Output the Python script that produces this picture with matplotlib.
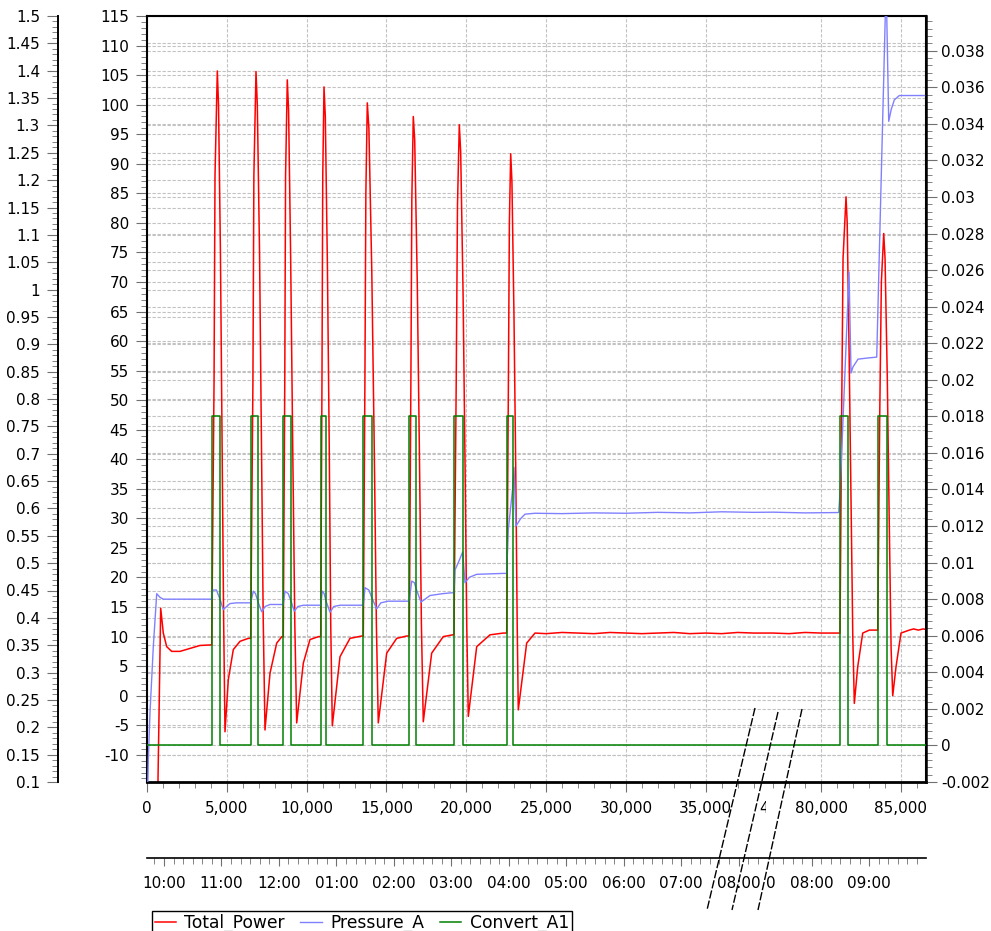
import numpy as np
import matplotlib
matplotlib.use("Agg")
import matplotlib.pyplot as plt
import matplotlib.transforms as mtransforms
from matplotlib.lines import Line2D
from matplotlib.ticker import FixedLocator, MultipleLocator, FuncFormatter

# === Logged channels (time in seconds since start of log) ===
power_t = [0, 600, 690, 858, 1021, 1234, 1547, 2067, 2694, 3320, 3946,
           4053, 4200, 4260, 4404, 4480, 4600, 4700, 4800, 4886, 5093, 5406, 5826, 6345,
           6496, 6635, 6695, 6828, 6910, 7050, 7160, 7280, 7392, 7705, 8125, 8450,
           8538, 8630, 8680, 8788, 8870, 9000, 9120, 9260, 9377, 9791, 10210, 10750,
           10881, 10960, 11010, 11088, 11170, 11300, 11410, 11510, 11608, 12090, 12716, 13449,
           13550, 13650, 13710, 13800, 13900, 14080, 14230, 14370, 14488, 15015, 15641, 16267,
           16430, 16530, 16590, 16681, 16770, 16930, 17060, 17190, 17307, 17833, 18560, 19149,
           19230, 19370, 19450, 19563, 19650, 19800, 19920, 20030, 20127, 20653, 21486, 22319,
           22532, 22640, 22700, 22783, 22860, 22990, 23100, 23190, 23258, 23784, 24304,
           25000, 26000, 27000, 28000, 29000, 30000, 31000, 32000, 33000, 34000, 35000,
           36000, 37000, 38000, 77000, 78000, 79000, 80000,
           81190, 81300, 81380, 81566, 81640, 81760, 81880, 81990, 82086, 82299, 82612, 83026, 83450,
           83552, 83680, 83780, 83928, 84010, 84150, 84270, 84390, 84492, 84698, 85011, 85531,
           85800, 86100, 86400, 86576]
power_v = [-60, -60, -14, 14.8, 10.6, 8.3, 7.5, 7.5, 8.0, 8.5, 8.6,
           8.6, 53, 88, 105.7, 100, 75, 45, 13, -6.1, 2.7, 7.8, 9.2, 9.7,
           9.7, 53, 88, 105.6, 100, 75, 45, 13, -5.8, 3.8, 8.9, 10.0,
           10.0, 53, 88, 104.2, 99, 74, 44, 12, -4.6, 5.5, 9.5, 10.0,
           10.0, 53, 88, 103.0, 98, 73, 44, 12, -5.1, 6.6, 9.7, 10.1,
           10.1, 53, 85, 100.3, 96, 72, 43, 12, -4.6, 7.2, 9.7, 10.1,
           10.1, 53, 84, 98.0, 94, 70, 42, 12, -4.4, 7.2, 10.0, 10.3,
           10.3, 53, 83, 96.6, 92, 68, 40, 12, -3.5, 8.3, 10.3, 10.6,
           10.6, 53, 80, 91.7, 87, 64, 38, 12, -2.4, 8.9, 10.6,
           10.5, 10.7, 10.6, 10.5, 10.7, 10.6, 10.5, 10.6, 10.7, 10.5, 10.6,
           10.5, 10.7, 10.6, 10.6, 10.5, 10.7, 10.6,
           10.6, 50, 74, 84.4, 80, 58, 33, 10, -1.3, 4.9, 10.6, 11.1, 11.1,
           11.1, 48, 70, 78.2, 74, 54, 30, 8, 0.0, 4.9, 10.6, 11.1,
           11.3, 11.1, 11.3, 11.2]

pressure_t = [0, 81, 188, 395, 608, 815, 1021, 2000, 3000, 4053,
              4116, 4350, 4573, 4779, 4990, 5199, 5600, 6496,
              6659, 6800, 6935, 7185, 7400, 7705, 8538,
              8644, 8850, 9020, 9227, 9450, 9800, 10881,
              10981, 11100, 11213, 11464, 11700, 12100, 13550,
              13656, 13900, 14075, 14388, 14650, 15100, 16430,
              16581, 16750, 16850, 17163, 17727, 18500, 19086, 19230,
              19293, 19500, 19776, 19920, 20200, 20653, 22319, 22532,
              22632, 22900, 22989, 23115, 23400, 23678, 24300,
              26000, 28000, 30000, 32000, 34000, 36000, 38000, 77000, 79000, 81109,
              81200, 81754, 81879, 82000, 82318, 83000, 83489,
              84028, 84080, 84116, 84241, 84400, 84592, 84905, 86576]
pressure_v = [-0.004, -0.0008, 0.0018, 0.0054, 0.0083, 0.0081, 0.0080, 0.0080, 0.0080, 0.0080,
              0.0085, 0.0085, 0.0080, 0.00743, 0.0076, 0.00776, 0.0078, 0.0078,
              0.00844, 0.0083, 0.0079, 0.00731, 0.0076, 0.00771, 0.00771,
              0.00844, 0.0083, 0.0079, 0.00734, 0.0076, 0.00767, 0.00767,
              0.00844, 0.0083, 0.0079, 0.00729, 0.0076, 0.00767, 0.00767,
              0.00863, 0.0085, 0.0081, 0.00747, 0.0078, 0.00789, 0.00789,
              0.00899, 0.0089, 0.0086, 0.00784, 0.0082, 0.0083, 0.00835, 0.00835,
              0.0096, 0.0100, 0.01058, 0.0089, 0.0092, 0.00936, 0.00941, 0.00941,
              0.0118, 0.0140, 0.01521, 0.0120, 0.0124, 0.01265, 0.0127,
              0.01268, 0.01272, 0.01270, 0.01275, 0.01272, 0.01278, 0.01275, 0.01276, 0.01272, 0.01274,
              0.0140, 0.0259, 0.02037, 0.0207, 0.02113, 0.0212, 0.02124,
              0.0400, 0.0412, 0.0400, 0.03414, 0.0348, 0.03531, 0.03555, 0.03555]

# Convert_A1 switching instants (s)
convert_on = [4053, 6496, 8538, 10881, 13550, 16430, 19230, 22532, 81190, 83552]
convert_off = [4573, 6935, 9020, 11213, 14075, 16850, 19776, 22945, 81673, 84116]
convert_level = 0.018
log_end = 86576

# === Axis ranges and ticks ===
sec_gap = (38774, 76555)          # stretch of the log cut out of the x axis
sec_ticks = [0, 5000, 10000, 15000, 20000, 25000, 30000, 35000, 80000, 85000]
sec_cut_tick = 40000              # first label past the cut, partly shown
clock_range = (9.704, 33.989)     # wall clock hours at log start / end
clock_gap = (20.477, 31.205)
clock_ticks = [10, 11, 12, 13, 14, 15, 16, 17, 18, 19, 20, 32, 33]
clock_cut_tick = 31               # last label before the cut on the far side
power_range = (-14.6, 115)
power_ticks = list(range(-10, 116, 5))
pressure_range = (-0.002, 0.0399)
pressure_ticks = [round(v, 3) + 0.0 for v in np.arange(-0.002, 0.0381, 0.002)]
aux_range = (0.1, 1.5)
aux_ticks = [round(v, 2) for v in np.arange(0.1, 1.5001, 0.05)]

W, H = 991, 931
plt.rcParams['font.family'] = ['DejaVu Sans']
plt.rcParams['font.size'] = 11


def broken_scale(lo, hi, squeeze=1e-4):
    cut = hi - lo

    def fwd(x):
        x = np.asarray(x, dtype=float)
        return np.where(x <= lo, x,
                        np.where(x >= hi, x - cut * (1 - squeeze), lo + (x - lo) * squeeze))

    def inv(y):
        y = np.asarray(y, dtype=float)
        top = lo + cut * squeeze
        return np.where(y <= lo, y,
                        np.where(y >= top, y + cut * (1 - squeeze), lo + (y - lo) / squeeze))
    return fwd, inv


def ticks_outside_gap(start, stop, step, rng, gap):
    vals = np.arange(start, stop + step / 2, step)
    keep = (vals >= rng[0]) & (vals <= rng[1]) & ~((vals > gap[0]) & (vals < gap[1]))
    return vals[keep]


def fx(px):
    return px / W


def fy(py):
    return 1 - py / H


tick_col = '#707070'
grid_kw = dict(color='#c2c2c2', lw=0.8, ls=(0, (3, 1.5)), zorder=0.8)

fig = plt.figure(figsize=(W / 100, H / 100), dpi=100)
left, right, top, bottom = 147, 926, 16, 782
cut_px = 766                       # where the axis break sits
rect = [fx(left), fy(bottom), fx(right) - fx(left), fy(top) - fy(bottom)]

# outer axis (no series of its own, only scale + grid)
ax_out = fig.add_axes([fx(58), rect[1], 0.001, rect[3]])
ax_out.patch.set_visible(False)
for s in ['top', 'right', 'bottom']:
    ax_out.spines[s].set_visible(False)
ax_out.spines['left'].set_linewidth(1.4)
ax_out.set_xticks([])
ax_out.set_ylim(*aux_range)
ax_out.yaxis.set_major_locator(FixedLocator(aux_ticks))
ax_out.yaxis.set_minor_locator(MultipleLocator(0.01))
ax_out.yaxis.set_major_formatter(FuncFormatter(lambda v, _: f"{round(v, 2):g}"))
ax_out.tick_params(axis='y', which='major', length=8, color=tick_col, pad=5)
ax_out.tick_params(axis='y', which='minor', length=4, color=tick_col)

# main plot
ax = fig.add_axes(rect)
fwd, inv = broken_scale(*sec_gap)
ax.set_xscale('function', functions=(fwd, inv))
ax.set_xlim(0, log_end)
ax.set_ylim(*power_range)
ax.set_axisbelow(True)

ax_r = ax.twinx()
ax_r.set_ylim(*pressure_range)

ax.xaxis.set_major_locator(FixedLocator(sec_ticks))
ax.xaxis.set_minor_locator(FixedLocator(
    ticks_outside_gap(0, 87000, 1000, (0, log_end), sec_gap)))
sec_fmt = lambda v, _=None: f"{int(round(v)):,}"
ax.xaxis.set_major_formatter(FuncFormatter(sec_fmt))
ax.yaxis.set_major_locator(FixedLocator(power_ticks))
ax.yaxis.set_minor_locator(MultipleLocator(1))
ax.yaxis.set_major_formatter(FuncFormatter(lambda v, _: f"{int(round(v))}"))
ax.tick_params(axis='x', which='major', length=7, color=tick_col, pad=7)
ax.tick_params(axis='x', which='minor', length=4, color=tick_col)
ax.tick_params(axis='y', which='major', length=8, color=tick_col, pad=5)
ax.tick_params(axis='y', which='minor', length=4, color=tick_col)

ax_r.yaxis.set_major_locator(FixedLocator(pressure_ticks))
ax_r.yaxis.set_minor_locator(MultipleLocator(0.0004))
ax_r.yaxis.set_major_formatter(FuncFormatter(lambda v, _: f"{round(v, 3) + 0.0:g}"))
ax_r.tick_params(axis='y', which='major', length=8, color=tick_col, pad=3)
ax_r.tick_params(axis='y', which='minor', length=4, color=tick_col)

for s in ['left', 'top', 'right']:
    ax.spines[s].set_linewidth(1.5)
ax.spines['bottom'].set_linewidth(2.0)
for s in ['left', 'top', 'bottom']:
    ax_r.spines[s].set_visible(False)
ax_r.spines['right'].set_linewidth(1.8)

# grid: vertical + left scale from ax, right and outer scales blended in
ax.grid(True, axis='x', which='major', **grid_kw)
ax.grid(True, axis='y', which='major', **grid_kw)
blend_r = mtransforms.blended_transform_factory(ax.transAxes, ax_r.transData)
for v in pressure_ticks:
    ax.add_artist(Line2D([0, 1], [v, v], transform=blend_r, **grid_kw))
blend_o = mtransforms.blended_transform_factory(ax.transAxes, ax_out.transData)
for v in aux_ticks:
    ax.add_artist(Line2D([0, 1], [v, v], transform=blend_o, **grid_kw))

# series
l_power, = ax.plot(power_t, power_v, color='#ff0000', lw=1.1, zorder=2)
l_press, = ax_r.plot(pressure_t, pressure_v, color='#8080ff', lw=1.0, zorder=2)
conv_t = [0]
conv_v = [0]
for on, off in zip(convert_on, convert_off):
    conv_t += [on, off]
    conv_v += [convert_level, 0]
conv_t.append(log_end)
conv_v.append(0)
l_conv, = ax_r.plot(conv_t, conv_v, color='#008000', lw=1.1, drawstyle='steps-post', zorder=3)

# clock-time axis under the plot
ax_t = fig.add_axes([rect[0], fy(858), rect[2], 1e-4])
ax_t.patch.set_visible(False)
for s in ['top', 'left', 'right']:
    ax_t.spines[s].set_visible(False)
ax_t.spines['bottom'].set_linewidth(1.2)
ax_t.set_yticks([])
tf, ti = broken_scale(*clock_gap)
ax_t.set_xscale('function', functions=(tf, ti))
ax_t.set_xlim(*clock_range)
ax_t.xaxis.set_major_locator(FixedLocator(clock_ticks))
ax_t.xaxis.set_minor_locator(FixedLocator(
    ticks_outside_gap(9, 34, 1 / 6, clock_range, clock_gap)))
clock_fmt = lambda v, _=None: f"{(int(round(v)) % 12) or 12:02d}:00"
ax_t.xaxis.set_major_formatter(FuncFormatter(clock_fmt))
ax_t.tick_params(axis='x', which='major', length=6, color=tick_col, pad=7)
ax_t.tick_params(axis='x', which='minor', length=4, color=tick_col)

# labels that run into the break: drawn one step beyond their neighbour and cut at the break
px_per_sec = (right - left) / (log_end - (sec_gap[1] - sec_gap[0]))
px_per_hour = (right - left) / ((clock_range[1] - clock_range[0]) - (clock_gap[1] - clock_gap[0]))
keep_left = mtransforms.TransformedBbox(
    mtransforms.Bbox.from_extents(0, 0, fx(cut_px), 1), fig.transFigure)
keep_right = mtransforms.TransformedBbox(
    mtransforms.Bbox.from_extents(fx(cut_px), 0, 1, 1), fig.transFigure)

t1 = ax.text(sec_ticks[7], 0, sec_fmt(sec_cut_tick), ha='center', va='top', fontsize=11,
             transform=mtransforms.offset_copy(ax.get_xaxis_transform(), fig=fig,
                                               x=(sec_cut_tick - sec_ticks[7]) * px_per_sec,
                                               y=-14 * 100 / 72, units='dots'))
t1.set_clip_box(keep_left)
t1.set_clip_on(True)
t2 = ax_t.text(clock_ticks[-2], 0, clock_fmt(clock_cut_tick), ha='center', va='top', fontsize=11,
               transform=mtransforms.offset_copy(ax_t.get_xaxis_transform(), fig=fig,
                                                 x=(clock_cut_tick - clock_ticks[-2]) * px_per_hour,
                                                 y=-13 * 100 / 72, units='dots'))
t2.set_clip_box(keep_right)
t2.set_clip_on(True)

# axis-break marks across both time scales
break_marks = [((755, 708), (707, 910)), ((778, 712), (732, 910)), ((802, 709), (758, 910))]
for (x0, y0), (x1, y1) in break_marks:
    fig.add_artist(Line2D([fx(x0), fx(x1)], [fy(y0), fy(y1)], transform=fig.transFigure,
                          color='black', lw=1.0, ls=(0, (6, 1.5)), zorder=10))

leg = fig.legend([l_power, l_press, l_conv], ['Total_Power', 'Pressure_A', 'Convert_A1'],
                 loc='upper left', bbox_to_anchor=(fx(152), fy(911)), ncol=3,
                 fontsize=12.3, frameon=True, fancybox=False, framealpha=1,
                 edgecolor='black', borderpad=0.15, borderaxespad=0,
                 handlelength=1.25, handletextpad=0.5, columnspacing=0.9)
leg.get_frame().set_linewidth(1.0)

fig.savefig('out.png', dpi=100)
